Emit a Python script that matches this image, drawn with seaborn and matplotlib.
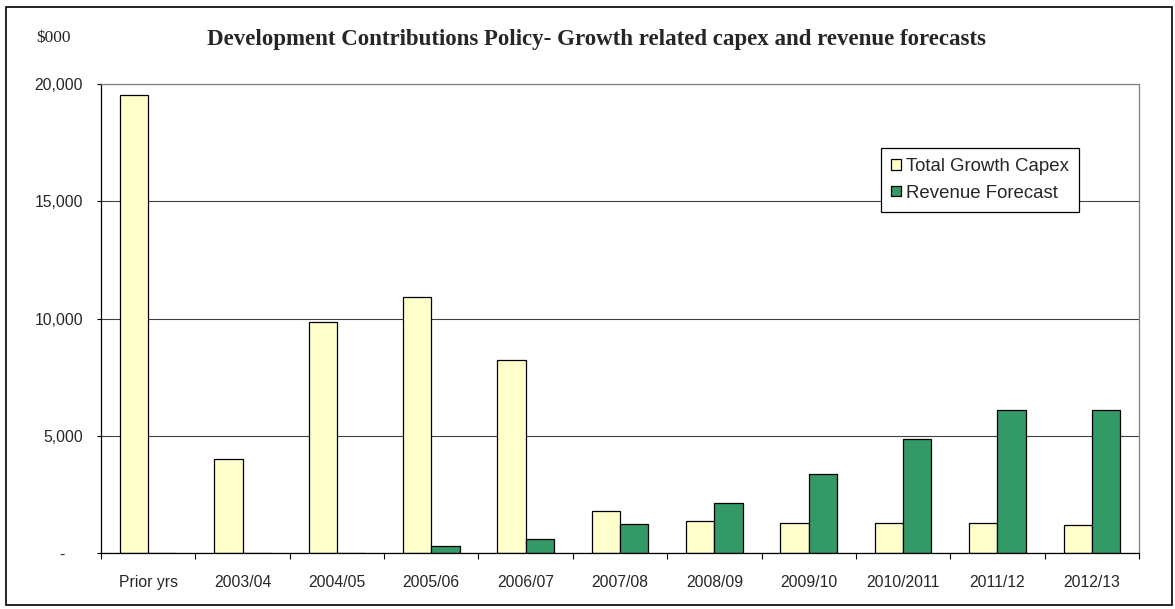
import matplotlib
matplotlib.use("Agg")
import matplotlib.pyplot as plt
import seaborn as sns
import pandas as pd
from matplotlib.patches import Rectangle

# ---- data ----
categories = ["Prior yrs", "2003/04", "2004/05", "2005/06", "2006/07", "2007/08",
              "2008/09", "2009/10", "2010/2011", "2011/12", "2012/13"]
capex = [19540, 4000, 9840, 10910, 8220, 1810, 1370, 1300, 1300, 1300, 1190]
revenue = [0, 0, 0, 310, 620, 1250, 2130, 3370, 4860, 6120, 6120]
series = ["Total Growth Capex", "Revenue Forecast"]
colors = ["#FFFFCC", "#339966"]
y_ticks = [0, 5000, 10000, 15000, 20000]
y_tick_labels = ["-    ", "5,000", "10,000", "15,000", "20,000"]
title = "Development Contributions Policy- Growth related capex and revenue forecasts"
unit_label = "$000"

df = pd.DataFrame({
    "category": categories * 2,
    "value": capex + revenue,
    "series": [series[0]] * len(categories) + [series[1]] * len(categories),
})

sns.set_style("white")
plt.rcParams["font.family"] = ["Liberation Sans", "DejaVu Sans"]

W, H = 1175, 609
fig = plt.figure(figsize=(W / 100, H / 100), dpi=100)
fig.patch.set_facecolor("white")

x0, x1, ytop, ybot = 101, 1139, 84, 553.3
ax = fig.add_axes([x0 / W, 1 - ybot / H, (x1 - x0) / W, (ybot - ytop) / H])

sns.barplot(data=df, x="category", y="value", hue="series", order=categories,
            hue_order=series, palette=colors, width=0.6, gap=0, saturation=1,
            edgecolor="black", linewidth=0.9, errorbar=None, ax=ax)

ax.set_xlim(-0.5, len(categories) - 0.5)
ax.set_ylim(0, 20000)
ax.set_xlabel("")
ax.set_ylabel("")

ax.set_yticks(y_ticks)
ax.set_yticklabels(y_tick_labels)
ax.set_axisbelow(True)
ax.yaxis.grid(True, color="#404040", linewidth=0.8)
ax.xaxis.grid(False)

ax.tick_params(axis="y", which="major", direction="out", length=3, width=0.8,
               color="black", pad=10, labelsize=11.3, left=True)
ax.tick_params(axis="x", which="major", length=0, pad=15.5, labelsize=11.3)
ax.set_xticks([i + 0.5 for i in range(-1, len(categories))], minor=True)
ax.tick_params(axis="x", which="minor", direction="out", length=4, width=0.8,
               color="black", bottom=True)

for s in ["left", "bottom"]:
    ax.spines[s].set_color("black")
    ax.spines[s].set_linewidth(0.9)
for s in ["top", "right"]:
    ax.spines[s].set_color("#808080")
    ax.spines[s].set_linewidth(0.9)

handles, labels = ax.get_legend_handles_labels()
leg = ax.legend(handles, labels, loc="upper left",
                bbox_to_anchor=(881 / W, 1 - 148 / H), bbox_transform=fig.transFigure,
                fontsize=13.4, handlelength=0.5, handleheight=0.5,
                handletextpad=0.3, borderpad=0.55, labelspacing=0.5,
                borderaxespad=0, fancybox=False, framealpha=1, edgecolor="black")
leg.get_frame().set_linewidth(0.9)

fig.text(0.508, 1 - 39 / H, title, ha="center", va="center",
         fontfamily="Liberation Serif", fontweight="bold", fontsize=16.5)
fig.text(36 / W, 1 - 38 / H, unit_label, ha="left", va="center",
         fontfamily="Liberation Serif", fontsize=12.5)

fig.patches.append(Rectangle((6 / W, 1 - 605 / H), (1172 - 6) / W, (605 - 7) / H,
                             transform=fig.transFigure, fill=False,
                             edgecolor="black", linewidth=1.2))

fig.savefig("out.png", dpi=100)
